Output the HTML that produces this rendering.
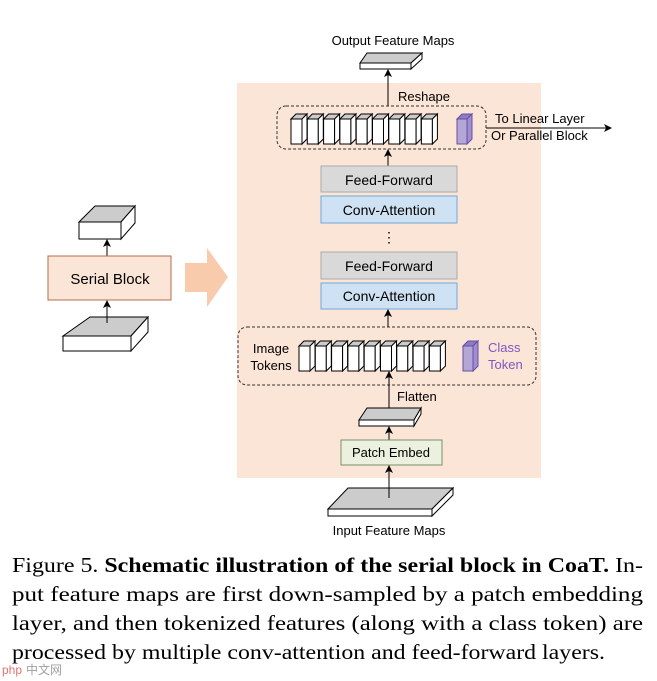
<!DOCTYPE html>
<html><head><meta charset="utf-8"><style>body{margin:0;background:#fff}svg{display:block}</style></head><body>
<svg width="657" height="681" viewBox="0 0 657 681" xmlns="http://www.w3.org/2000/svg" font-family="Liberation Sans, sans-serif">
<defs>
<marker id="ah" markerWidth="8" markerHeight="8" refX="7" refY="4" orient="auto" markerUnits="userSpaceOnUse"><path d="M0,0 L8,4 L0,8 L2,4 z" fill="#000"/></marker>
<g id="tok" stroke="#000" stroke-width="1">
<rect x="0" y="0" width="11" height="25" fill="#fff"/>
<path d="M0,0 L5,-5 L16,-5 L11,0 z" fill="#ccc"/>
<path d="M11,0 L16,-5 L16,20 L11,25 z" fill="#fff"/>
</g>
<g id="ptok" stroke="#674ea7" stroke-width="1">
<rect x="0" y="0" width="10" height="25" fill="#b4a7d6"/>
<path d="M0,0 L5,-5 L15,-5 L10,0 z" fill="#8e7cc3"/>
<path d="M10,0 L15,-5 L15,20 L10,25 z" fill="#a08fd0"/>
</g>
</defs>
<rect x="237" y="83" width="304" height="395" fill="#fbe5d6"/>
<!-- output slab -->
<g stroke="#000" stroke-width="1">
<path d="M360,63 L367,53 L422,53 L411,63 z" fill="#ccc"/>
<rect x="360" y="63" width="51" height="6" fill="#fff"/>
<path d="M411,63 L422,53 L422,59 L411,69 z" fill="#fff"/>
</g>
<text x="393" y="45" font-size="13" text-anchor="middle">Output Feature Maps</text>
<line x1="388" y1="106" x2="388" y2="70" stroke="#000" marker-end="url(#ah)"/>
<text x="424" y="101" font-size="13" text-anchor="middle">Reshape</text>
<rect x="277" y="106" width="209" height="43" rx="9" fill="none" stroke="#333" stroke-dasharray="3,2"/>
<use href="#tok" x="291" y="119"/><use href="#tok" x="307.3" y="119"/><use href="#tok" x="323.6" y="119"/><use href="#tok" x="339.9" y="119"/><use href="#tok" x="356.2" y="119"/><use href="#tok" x="372.5" y="119"/><use href="#tok" x="388.8" y="119"/><use href="#tok" x="405.1" y="119"/><use href="#tok" x="421.4" y="119"/>
<use href="#ptok" x="457" y="119"/>
<line x1="486" y1="128" x2="611" y2="128" stroke="#000" marker-end="url(#ah)"/>
<text x="495" y="123" font-size="13">To Linear Layer</text>
<text x="491" y="140" font-size="13">Or Parallel Block</text>
<line x1="388" y1="166" x2="388" y2="150" stroke="#000" marker-end="url(#ah)"/>
<rect x="321" y="166" width="136" height="26" fill="#d9d9d9" stroke="#aaa"/>
<text x="389" y="185" font-size="14" text-anchor="middle">Feed-Forward</text>
<rect x="321" y="196" width="136" height="27" fill="#cfe2f3" stroke="#6fa8dc"/>
<text x="389" y="215" font-size="14" text-anchor="middle">Conv-Attention</text>
<text x="389" y="242" font-size="14" text-anchor="middle">⋮</text>
<rect x="321" y="252" width="136" height="27" fill="#d9d9d9" stroke="#aaa"/>
<text x="389" y="271" font-size="14" text-anchor="middle">Feed-Forward</text>
<rect x="321" y="283" width="136" height="26" fill="#cfe2f3" stroke="#6fa8dc"/>
<text x="389" y="301" font-size="14" text-anchor="middle">Conv-Attention</text>
<line x1="388" y1="327" x2="388" y2="310" stroke="#000" marker-end="url(#ah)"/>
<rect x="238" y="327" width="298" height="58" rx="9" fill="none" stroke="#333" stroke-dasharray="3,2"/>
<text x="271" y="353" font-size="13" text-anchor="middle">Image</text>
<text x="271" y="370" font-size="13" text-anchor="middle">Tokens</text>
<use href="#tok" x="299" y="346"/><use href="#tok" x="315.3" y="346"/><use href="#tok" x="331.6" y="346"/><use href="#tok" x="347.9" y="346"/><use href="#tok" x="364.2" y="346"/><use href="#tok" x="380.5" y="346"/><use href="#tok" x="396.8" y="346"/><use href="#tok" x="413.1" y="346"/><use href="#tok" x="429.4" y="346"/>
<use href="#ptok" x="463" y="346"/>
<text x="488" y="352" font-size="13" fill="#7e57c2">Class</text>
<text x="488" y="369" font-size="13" fill="#7e57c2">Token</text>
<line x1="389" y1="420" x2="389" y2="372" stroke="#000" marker-end="url(#ah)"/>
<text x="397" y="401" font-size="13">Flatten</text>
<g stroke="#000" stroke-width="1">
<path d="M359,420 L367,408 L421,408 L414,420 z" fill="#ccc"/>
<rect x="359" y="420" width="55" height="6" fill="#fff"/>
<path d="M414,420 L421,408 L421,414 L414,426 z" fill="#fff"/>
</g>
<line x1="389" y1="440" x2="389" y2="427" stroke="#000" marker-end="url(#ah)"/>
<rect x="341" y="440" width="101" height="25" fill="#ebf1de" stroke="#7a8f6a"/>
<text x="391" y="457" font-size="13" text-anchor="middle">Patch Embed</text>
<g stroke="#000" stroke-width="1">
<path d="M328,509 L348,488 L453,488 L432,509 z" fill="#ccc"/>
<rect x="328" y="509" width="104" height="7" fill="#fff"/>
<path d="M432,509 L453,488 L453,495 L432,516 z" fill="#fff"/>
</g>
<line x1="389" y1="498" x2="389" y2="466" stroke="#000" marker-end="url(#ah)"/>
<text x="389" y="535" font-size="13" text-anchor="middle">Input Feature Maps</text>
<!-- left -->
<g stroke="#000" stroke-width="1">
<path d="M79,222 L95,206 L135,206 L121,222 z" fill="#ccc"/>
<rect x="79" y="222" width="42" height="17" fill="#fff"/>
<path d="M121,222 L135,206 L135,223 L121,239 z" fill="#fff"/>
</g>
<line x1="107" y1="256" x2="107" y2="240" stroke="#000" marker-end="url(#ah)"/>
<rect x="48" y="256" width="123" height="44" fill="#fbe5d6" stroke="#b46d4b"/>
<text x="110" y="284" font-size="15" text-anchor="middle">Serial Block</text>
<g stroke="#000" stroke-width="1">
<path d="M63,336 L90,317 L148,317 L131,336 z" fill="#ccc"/>
<rect x="63" y="336" width="68" height="15" fill="#fff"/>
<path d="M131,336 L148,317 L148,332 L131,351 z" fill="#fff"/>
</g>
<line x1="107" y1="323" x2="107" y2="301" stroke="#000" marker-end="url(#ah)"/>
<path d="M185,263 L207,263 L207,248 L228,277 L207,307 L207,292 L185,292 z" fill="#f8cbad"/>
<!-- caption -->
<g font-family="Liberation Serif, serif" font-size="21" fill="#000">
<text x="12" y="572" textLength="631" lengthAdjust="spacingAndGlyphs">Figure 5. <tspan font-weight="bold">Schematic illustration of the serial block in CoaT.</tspan> In-</text>
<text x="12" y="601" textLength="631" lengthAdjust="spacingAndGlyphs">put feature maps are first down-sampled by a patch embedding</text>
<text x="12" y="630" textLength="631" lengthAdjust="spacingAndGlyphs">layer, and then tokenized features (along with a class token) are</text>
<text x="12" y="659" textLength="593" lengthAdjust="spacingAndGlyphs">processed by multiple conv-attention and feed-forward layers.</text>
</g>
<text x="2" y="674" font-size="12" fill="#e05050" opacity="0.8">php</text>
<text x="26" y="674" font-size="12" fill="#888" font-family="Liberation Sans, Noto Sans CJK SC, sans-serif" opacity="0.8">中文网</text>
</svg>
</body></html>
